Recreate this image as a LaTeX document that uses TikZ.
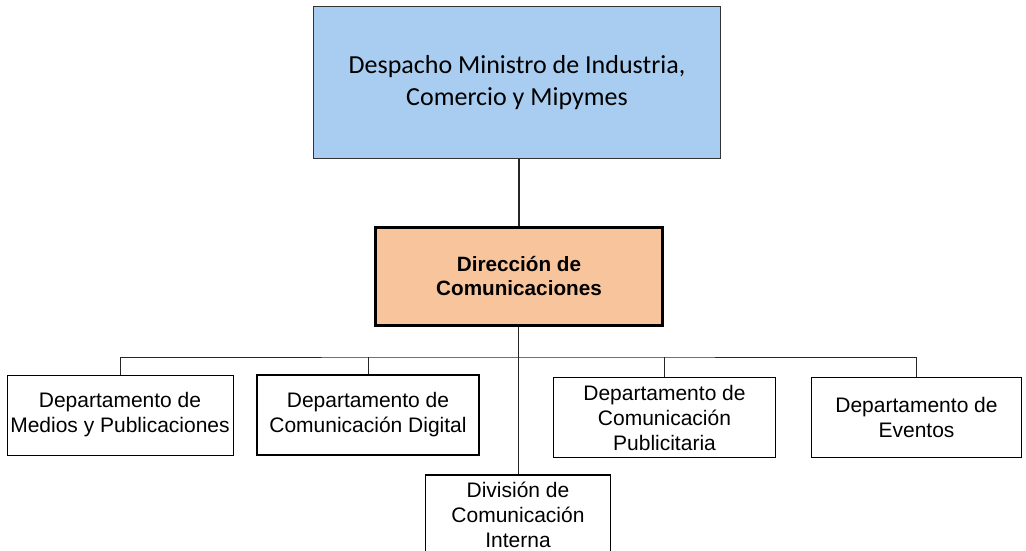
\documentclass[tikz,border=0pt]{standalone}
\usepackage{fontspec}
\setmainfont{Liberation Sans}
\newfontfamily\calibri{Carlito}
\usetikzlibrary{positioning, calc}
\definecolor{despachoblue}{HTML}{A9CDF0}
\definecolor{direccionorange}{HTML}{F8C49C}

\begin{document}
\begin{tikzpicture}[
  x=1pt, y=-1pt,
  despachobox/.style={rectangle, minimum width=407pt, minimum height=152pt,
    align=center, draw=black!80, line width=1pt, fill=despachoblue,
    font=\calibri\fontsize{26}{32}\selectfont},
  direccionbox/.style={rectangle, minimum width=287pt, minimum height=98pt,
    align=center, draw=black, line width=3pt, fill=direccionorange,
    font=\bfseries\fontsize{20.7}{24}\selectfont},
  deptbox/.style={rectangle, minimum width=222pt, minimum height=80pt,
    align=center, draw=black, line width=1.2pt, fill=white,
    font=\fontsize{21}{25}\selectfont},
  conn/.style={draw=black!85, line width=1pt}
]
\useasboundingbox (0,0) rectangle (1026,550);

\node (despacho) [despachobox] at (517,82.5) {Despacho Ministro de Industria,\\Comercio y Mipymes};
\node (direccion) [direccionbox] at (519,276.5) {Dirección de\\Comunicaciones};
\node (medios) [deptbox, line width=0.8pt] at (120,415) {Departamento de\\Medios y Publicaciones};
\node (digital) [deptbox] at (368,415) {Departamento de\\Comunicación Digital};
\node (publicitaria) [deptbox] at (664.5,417.5) {Departamento de\\Comunicación\\Publicitaria};
\node (eventos) [deptbox, minimum width=210pt] at (916.5,417.5) {Departamento de\\Eventos};
\node (interna) [deptbox, minimum width=185pt] at (518,515) {División de\\Comunicación\\Interna};

\coordinate (bus) at (518,357);

\draw [conn, line width=1.5pt] (despacho.south -| direccion.north) -- (direccion.north);
\draw [conn] (direccion.south -| interna.north) -- (interna.north);
\draw [conn] (medios.north) |- (bus) -| (eventos.north);
\draw [conn] (digital.north) -- (digital.north |- bus);
\draw [conn] (publicitaria.north) -- (publicitaria.north |- bus);

\end{tikzpicture}
\end{document}
